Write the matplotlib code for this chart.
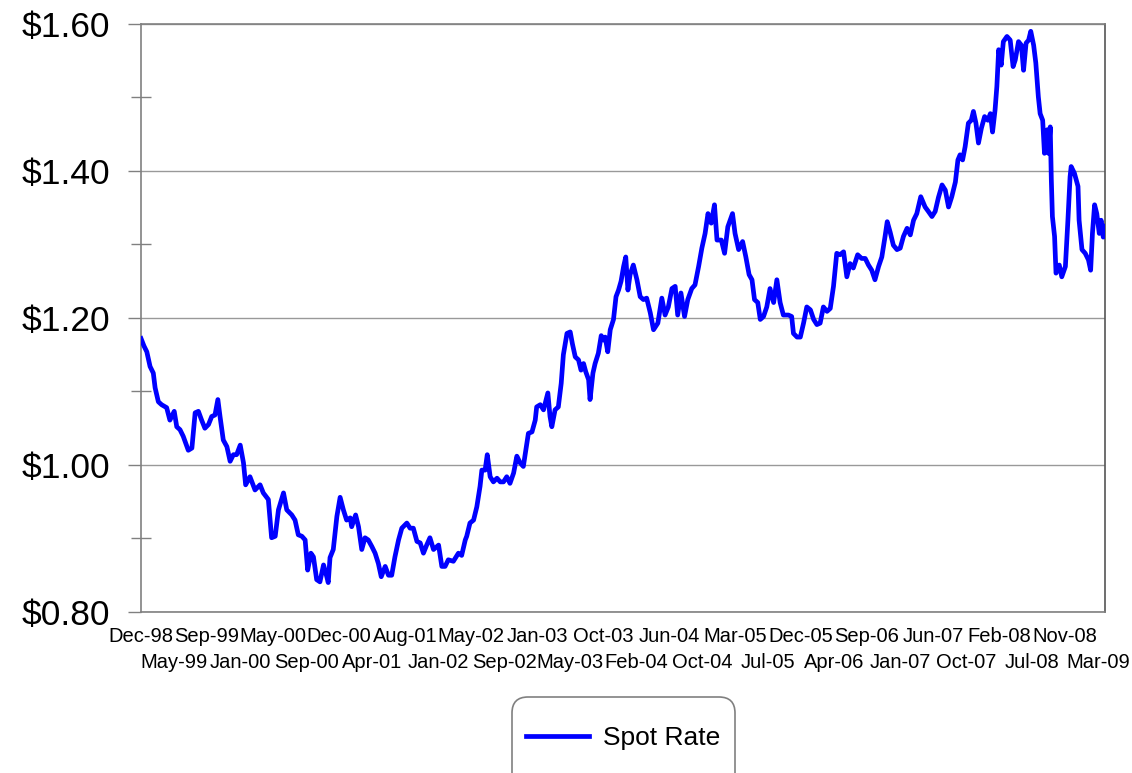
import matplotlib
matplotlib.use('Agg')
import matplotlib.pyplot as plt
from matplotlib.patches import FancyBboxPatch
from matplotlib.ticker import FuncFormatter, MultipleLocator

# Spot rate (USD per EUR).
# day = trading-day index counted from the first observation (Dec-98)
day = [0, 8, 16, 25, 34, 39, 48, 57, 71, 80, 92, 99, 108, 117, 131, 141, 150, 159,
       168, 177, 187, 196, 205, 213, 219, 228, 238, 247, 256, 265, 275, 284, 290,
       302, 316, 330, 339, 353, 362, 372, 381, 395, 404, 418, 427, 436, 446, 455,
       462, 471, 478, 487, 496, 506, 515, 519, 524, 533, 543, 552, 561, 570, 580,
       584, 595, 603, 612, 621, 630, 640, 649, 658, 666, 677, 686, 695, 704, 714,
       723, 737, 746, 755, 765, 774, 783, 792, 801, 811, 825, 834, 843, 852, 866,
       880, 889, 899, 903, 912, 922, 931, 940, 945, 954, 960, 968, 977, 987, 996,
       1005, 1014, 1023, 1033, 1042, 1051, 1060, 1067, 1074, 1084, 1093, 1097,
       1107, 1116, 1128, 1134, 1139, 1148, 1157, 1165, 1171, 1181, 1190, 1196,
       1204, 1213, 1220, 1227, 1233, 1241, 1245, 1253, 1259, 1268, 1276, 1282,
       1287, 1294, 1301, 1310, 1317, 1324, 1331, 1338, 1344, 1350, 1356, 1365,
       1375, 1384, 1393, 1402, 1412, 1421, 1433, 1444, 1453, 1462, 1472, 1481,
       1488, 1497, 1507, 1516, 1527, 1536, 1546, 1555, 1564, 1572, 1581, 1590,
       1597, 1609, 1618, 1627, 1640, 1647, 1657, 1668, 1677, 1686, 1694, 1701,
       1710, 1717, 1726, 1735, 1744, 1754, 1763, 1772, 1781, 1795, 1804, 1809,
       1819, 1828, 1837, 1846, 1856, 1865, 1874, 1883, 1892, 1902, 1911, 1920,
       1929, 1938, 1948, 1957, 1966, 1975, 1987, 1998, 2008, 2017, 2026, 2035,
       2045, 2054, 2063, 2069, 2077, 2086, 2096, 2105, 2114, 2124, 2133, 2142,
       2151, 2162, 2174, 2183, 2193, 2202, 2211, 2221, 2230, 2239, 2248, 2258,
       2265, 2271, 2278, 2285, 2294, 2302, 2308, 2315, 2322, 2330, 2339, 2348,
       2355, 2361, 2368, 2373, 2378, 2385, 2391, 2401, 2410, 2418, 2424, 2433,
       2441, 2447, 2454, 2461, 2467, 2475, 2481, 2488, 2493, 2500, 2505, 2512,
       2516, 2521, 2524, 2527, 2533, 2537, 2546, 2553, 2563, 2570, 2576, 2579,
       2588, 2598, 2601, 2609, 2618, 2627, 2633, 2638, 2644, 2650, 2657, 2662,
       2668, 2673]
spot_rate = [1.172, 1.162, 1.154, 1.134, 1.125, 1.105, 1.086, 1.082, 1.078, 1.061,
             1.073, 1.052, 1.048, 1.039, 1.020, 1.023, 1.071, 1.073, 1.061, 1.050,
             1.055, 1.066, 1.068, 1.089, 1.066, 1.034, 1.025, 1.005, 1.014, 1.014,
             1.027, 1.003, 0.973, 0.984, 0.966, 0.973, 0.962, 0.953, 0.901, 0.903,
             0.939, 0.962, 0.939, 0.932, 0.925, 0.905, 0.903, 0.898, 0.857, 0.880,
             0.875, 0.844, 0.841, 0.864, 0.848, 0.840, 0.874, 0.885, 0.930, 0.956,
             0.939, 0.925, 0.928, 0.916, 0.932, 0.916, 0.885, 0.901, 0.898, 0.889,
             0.880, 0.866, 0.848, 0.862, 0.850, 0.850, 0.875, 0.898, 0.914, 0.921,
             0.914, 0.914, 0.896, 0.894, 0.880, 0.891, 0.901, 0.885, 0.891, 0.862,
             0.862, 0.871, 0.869, 0.880, 0.877, 0.898, 0.903, 0.921, 0.925, 0.943,
             0.971, 0.993, 0.993, 1.014, 0.984, 0.977, 0.982, 0.977, 0.977, 0.984,
             0.975, 0.989, 1.012, 1.003, 0.998, 1.021, 1.043, 1.045, 1.061, 1.079,
             1.082, 1.075, 1.098, 1.066, 1.052, 1.075, 1.079, 1.111, 1.150, 1.179,
             1.181, 1.165, 1.147, 1.143, 1.129, 1.138, 1.127, 1.116, 1.089, 1.125,
             1.138, 1.152, 1.176, 1.170, 1.174, 1.154, 1.184, 1.198, 1.229, 1.238,
             1.250, 1.270, 1.283, 1.238, 1.259, 1.272, 1.252, 1.229, 1.225, 1.227,
             1.207, 1.184, 1.193, 1.227, 1.204, 1.215, 1.240, 1.243, 1.204, 1.234,
             1.202, 1.225, 1.240, 1.245, 1.270, 1.295, 1.315, 1.342, 1.329, 1.354,
             1.306, 1.306, 1.288, 1.324, 1.342, 1.315, 1.293, 1.304, 1.283, 1.259,
             1.252, 1.225, 1.221, 1.198, 1.202, 1.215, 1.240, 1.221, 1.252, 1.221,
             1.204, 1.204, 1.202, 1.179, 1.174, 1.174, 1.193, 1.215, 1.211, 1.198,
             1.191, 1.193, 1.215, 1.209, 1.213, 1.243, 1.288, 1.286, 1.290, 1.256,
             1.274, 1.268, 1.286, 1.281, 1.281, 1.272, 1.265, 1.252, 1.270, 1.283,
             1.311, 1.331, 1.317, 1.299, 1.293, 1.295, 1.311, 1.322, 1.313, 1.333,
             1.342, 1.365, 1.351, 1.345, 1.338, 1.345, 1.364, 1.381, 1.374, 1.351,
             1.365, 1.385, 1.415, 1.422, 1.415, 1.433, 1.465, 1.469, 1.481, 1.465,
             1.438, 1.458, 1.474, 1.469, 1.478, 1.453, 1.483, 1.515, 1.565, 1.544,
             1.576, 1.583, 1.578, 1.542, 1.551, 1.576, 1.571, 1.537, 1.574, 1.578,
             1.590, 1.571, 1.547, 1.501, 1.478, 1.469, 1.424, 1.456, 1.424, 1.460,
             1.388, 1.338, 1.311, 1.261, 1.272, 1.256, 1.270, 1.333, 1.392, 1.406,
             1.397, 1.379, 1.333, 1.293, 1.288, 1.279, 1.265, 1.315, 1.354, 1.342,
             1.315, 1.333, 1.310, 1.325]

tick_labels = ['Dec-98', 'May-99', 'Sep-99', 'Jan-00', 'May-00', 'Sep-00', 'Dec-00',
               'Apr-01', 'Aug-01', 'Jan-02', 'May-02', 'Sep-02', 'Jan-03', 'May-03',
               'Oct-03', 'Feb-04', 'Jun-04', 'Oct-04', 'Mar-05', 'Jul-05', 'Dec-05',
               'Apr-06', 'Sep-06', 'Jan-07', 'Jun-07', 'Oct-07', 'Feb-08', 'Jul-08',
               'Nov-08', 'Mar-09']
label_step = 91.5  # trading days between two category labels

plt.rcParams['font.family'] = ['Liberation Sans', 'DejaVu Sans']

fig = plt.figure(figsize=(11.32, 7.73), dpi=100)
ax = fig.add_axes([0.1246, 0.2083, 0.8516, 0.7607])

ax.plot(day, spot_rate, color='#0000FF', lw=3.4, label='Spot Rate',
        solid_joinstyle='round', zorder=3)

ax.set_xlim(0, day[-1])
ax.set_ylim(0.8, 1.6)

# y axis: dollar labels, gridlines on the majors, crossing minor ticks
ax.yaxis.set_major_locator(MultipleLocator(0.2))
ax.yaxis.set_minor_locator(MultipleLocator(0.1))
ax.yaxis.set_major_formatter(FuncFormatter(lambda v, p: f'${v:.2f}'))
ax.grid(axis='y', which='major', color='#999999', lw=1)
ax.tick_params(axis='y', which='major', length=9.5, width=1, color='#808080',
               labelsize=25.5, pad=13)
ax.tick_params(axis='y', which='minor', direction='inout', length=14, width=1,
               color='#808080')

# x axis: category labels staggered on two rows
pos = [i * label_step for i in range(len(tick_labels))]
ax.set_xticks(pos[0::2], tick_labels[0::2])
ax.set_xticks(pos[1::2], tick_labels[1::2], minor=True)
ax.tick_params(axis='x', which='major', length=0, labelsize=14.5, pad=10.5)
ax.tick_params(axis='x', which='minor', length=0, labelsize=14.5, pad=29.5)

for s in ['left', 'bottom', 'top']:
    ax.spines[s].set_color('#808080')
    ax.spines[s].set_linewidth(1.2)
ax.spines['right'].set_color('#555555')
ax.spines['right'].set_linewidth(1.2)

# legend with a rounded frame that runs off the bottom edge
frame = FancyBboxPatch((512, -20), 223, 96, boxstyle='round,pad=0,rounding_size=16',
                       transform=None, fc='white', ec='#808080', lw=1.2)
fig.add_artist(frame)
fig.legend(loc='center', bbox_to_anchor=(0.5504, 0.0453), frameon=False,
           fontsize=19, handlelength=2.4, handletextpad=0.5)

fig.savefig('out.png', dpi=100)
